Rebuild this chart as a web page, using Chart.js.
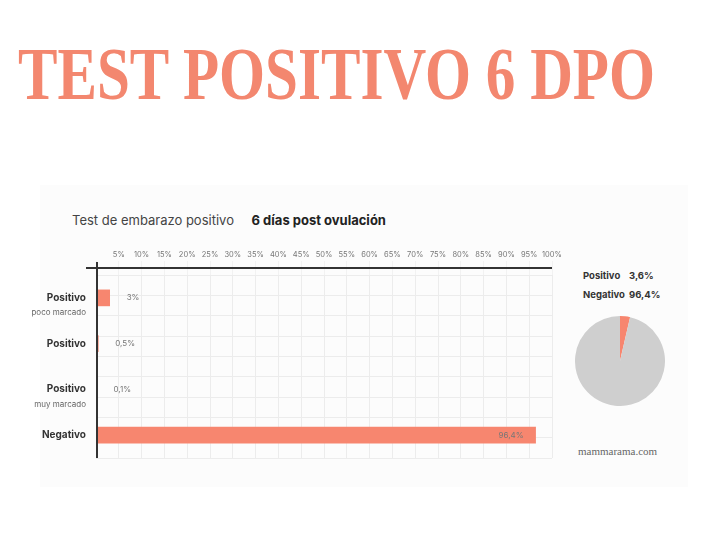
<!DOCTYPE html>
<html>
<head>
<meta charset="utf-8">
<script src="https://cdn.jsdelivr.net/npm/chart.js@4"></script>
<style>
    body { margin: 0; width: 720px; height: 542px; background: #fff; position: relative; overflow: hidden; font-family: Inter, sans-serif; }
    .big-title { position: absolute; left: 18px; top: 36px; font-family: "Liberation Serif", serif; font-weight: bold; font-size: 75px; line-height: 1; color: #f3876f; white-space: nowrap; transform-origin: left top; }
    .panel { position: absolute; left: 40px; top: 185px; width: 648px; height: 302px; background: #fcfcfc; }
    .chart-title { position: absolute; left: 72px; top: 212px; font-size: 13px; color: #444; white-space: nowrap; }
    .chart-title b { margin-left: 14px; color: #222; }
    .bar-wrap { position: absolute; left: 0; top: 240px; width: 570px; height: 230px; }
    .pie-wrap { position: absolute; left: 575px; top: 316px; width: 90px; height: 90px; }
    .pie-legend { position: absolute; left: 583px; top: 266px; font-size: 9.5px; font-weight: bold; color: #333; line-height: 19px; }
    .pie-legend span { display: inline-block; width: 46px; }
    .credit { position: absolute; left: 578px; top: 445px; font-family: "Liberation Serif", serif; font-size: 11px; color: #666; }
</style>
</head>
<body>
<div class="big-title" id="bigTitle">TEST POSITIVO 6 DPO</div>
<div class="panel"></div>
<div class="chart-title">Test de embarazo positivo <b>6 días post ovulación</b></div>
<div class="bar-wrap"><canvas id="barChart"></canvas></div>
<div class="pie-legend" id="pieLegend"></div>
<div class="pie-wrap"><canvas id="pieChart"></canvas></div>
<div class="credit">mammarama.com</div>

<script>
// Bar data
const categories = ['Positivo', 'Positivo', 'Positivo', 'Negativo'];
const subLabels = ['poco marcado', '', 'muy marcado', ''];
const values = [3, 0.5, 0.1, 96.4];
const valueLabels = ['3%', '0,5%', '0,1%', '96,4%'];
const tickValues = [5, 10, 15, 20, 25, 30, 35, 40, 45, 50, 55, 60, 65, 70, 75, 80, 85, 90, 95, 100];

// Pie data
const pieLabels = ['Positivo', 'Negativo'];
const pieValues = [3.6, 96.4];
const pieTexts = ['3,6%', '96,4%'];

const SALMON = '#f7866f';

// squeeze the headline to the width it has in the original
const bigTitle = document.getElementById('bigTitle');
bigTitle.style.transform = `scaleX(${637 / bigTitle.getBoundingClientRect().width})`;

// legend text next to the pie
document.getElementById('pieLegend').innerHTML = pieLabels
    .map((l, i) => `<div><span>${l}</span>${pieTexts[i]}</div>`).join('');

// axis lines, category labels and bar values
const decorPlugin = {
    id: 'decor',
    afterDraw(chart) {
        const ctx = chart.ctx;
        const area = chart.chartArea;
        const y = chart.scales.y;
        const meta = chart.getDatasetMeta(0);
        ctx.save();

        // axes
        ctx.strokeStyle = '#333';
        ctx.lineWidth = 2;
        ctx.beginPath();
        ctx.moveTo(area.left - 10, area.top - 7);
        ctx.lineTo(area.right, area.top - 7);
        ctx.moveTo(area.left + 1, area.top - 13);
        ctx.lineTo(area.left + 1, area.bottom);
        ctx.stroke();

        // category labels
        ctx.textAlign = 'right';
        ctx.textBaseline = 'middle';
        categories.forEach((c, i) => {
            const py = y.getPixelForValue(i);
            ctx.fillStyle = '#333';
            ctx.font = 'bold 10px Inter, sans-serif';
            ctx.fillText(c, area.left - 10, py);
            if (subLabels[i]) {
                ctx.fillStyle = '#666';
                ctx.font = '8px Inter, sans-serif';
                ctx.fillText(subLabels[i], area.left - 10, py + 15);
            }
        });

        // bar values
        ctx.font = '8px Inter, sans-serif';
        ctx.fillStyle = '#777';
        meta.data.forEach((bar, i) => {
            if (values[i] > 50) {
                ctx.textAlign = 'right';
                ctx.fillText(valueLabels[i], bar.x - 12, bar.y);
            } else {
                ctx.textAlign = 'left';
                ctx.fillText(valueLabels[i], bar.x + 17, bar.y);
            }
        });
        ctx.restore();
    }
};

new Chart(document.getElementById('barChart'), {
    type: 'bar',
    data: {
        labels: categories,
        datasets: [{
            data: values,
            backgroundColor: SALMON,
            barThickness: 16,
            borderWidth: 0
        }]
    },
    options: {
        indexAxis: 'y',
        responsive: true,
        maintainAspectRatio: false,
        animation: false,
        layout: { padding: { top: 0, right: 18, bottom: 12, left: 0 } },
        plugins: { legend: { display: false }, tooltip: { enabled: false } },
        scales: {
            x: {
                position: 'top',
                min: 0,
                max: 100,
                afterBuildTicks: (s) => { s.ticks = [0].concat(tickValues).map(v => ({ value: v })); },
                afterFit: (s) => { s.height = 35; },
                border: { display: false },
                grid: { color: '#ececec', lineWidth: 1, drawTicks: true, tickLength: 14, tickColor: '#f2f2f2' },
                ticks: {
                    padding: 2,
                    color: '#777',
                    font: { size: 7.5, family: 'Inter, sans-serif' },
                    maxRotation: 0,
                    autoSkip: false,
                    callback: (v) => v === 0 ? '' : v + '%'
                }
            },
            y: {
                afterFit: (s) => { s.width = 96; },
                border: { display: false },
                grid: { display: false },
                ticks: { display: false }
            },
            y2: {
                type: 'linear',
                position: 'right',
                min: 0,
                max: 8,
                afterFit: (s) => { s.width = 0; },
                border: { display: false },
                grid: { color: '#ececec', drawTicks: false },
                ticks: { display: false, stepSize: 1 }
            }
        }
    },
    plugins: [decorPlugin]
});

new Chart(document.getElementById('pieChart'), {
    type: 'pie',
    data: {
        labels: pieLabels,
        datasets: [{
            data: pieValues,
            backgroundColor: [SALMON, '#cfcfcf'],
            borderWidth: 0
        }]
    },
    options: {
        responsive: true,
        maintainAspectRatio: false,
        animation: false,
        plugins: { legend: { display: false }, tooltip: { enabled: false } }
    }
});
</script>
</body>
</html>
